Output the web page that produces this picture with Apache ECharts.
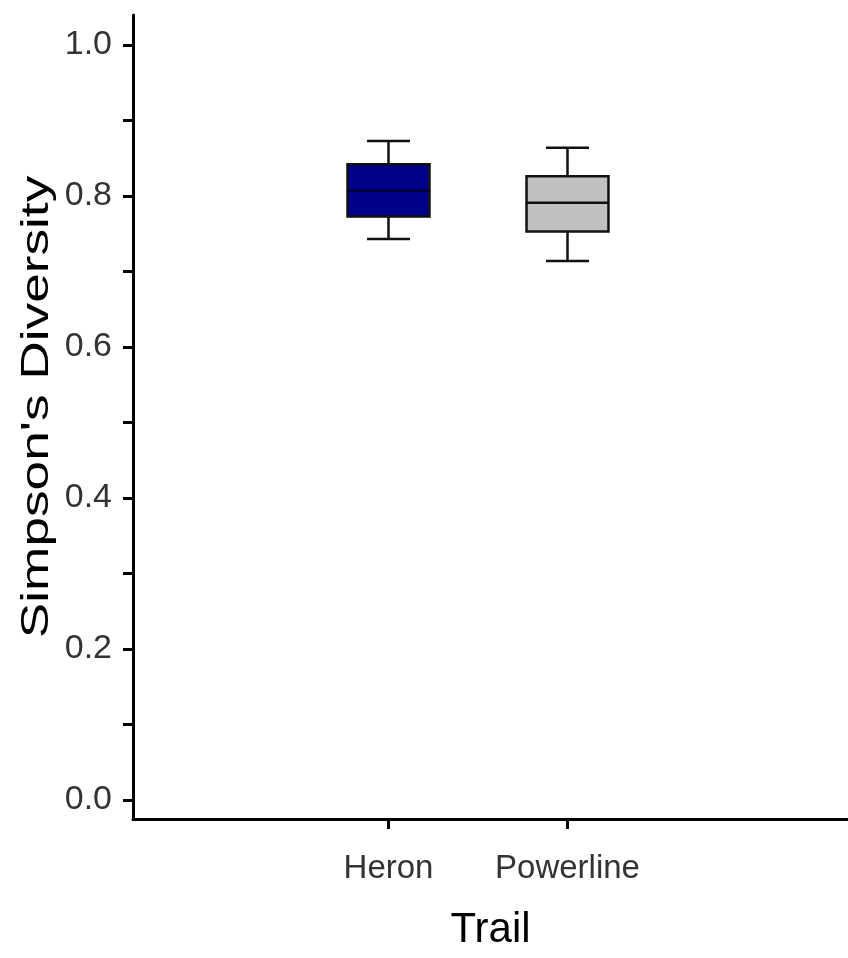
<!DOCTYPE html>
<html>
<head>
<meta charset="utf-8">
<script src="https://cdn.jsdelivr.net/npm/echarts@6/dist/echarts.min.js"></script>
<style>
html,body{margin:0;padding:0;background:#fff;}
#chart{width:848px;height:958px;}
</style>
</head>
<body>
<div id="chart"></div>
<script>
// ---- data ----
const categories = ['Heron', 'Powerline'];
const whiskerLow = [0.743, 0.714];
const q1 = [0.773, 0.753];
const median = [0.807, 0.791];
const q3 = [0.842, 0.826];
const whiskerHigh = [0.873, 0.864];
const yMin = 0, yMax = 1, yStep = 0.2;
const yTitle = "Simpson's Diversity";
const xTitle = 'Trail';

// ---- styles / layout ----
const boxFills = ['#00008B', '#C0C0C0'];
const labelFont = '"Liberation Sans", Arial, sans-serif';
// the frame extends slightly beyond the 0..1 tick range (19px below, 30px above, 755px per unit)
const frameMin = yMin - 19 / 755;
const frameMax = yMax + 30 / 755;

const boxData = categories.map((c, i) => [i, whiskerLow[i], q1[i], median[i], q3[i], whiskerHigh[i]]);

const chart = echarts.init(document.getElementById('chart'), null, {renderer: 'canvas'});

const blackLine = {color: '#000', width: 3};

chart.setOption({
  animation: false,
  backgroundColor: '#fff',
  grid: [
    {left: 133, right: 0, top: 15, bottom: 139},   // frame (axis lines)
    {left: 133, right: 0, top: 45, bottom: 158},   // y ticks & labels
    {left: 299, right: 191, top: 15, bottom: 139}  // boxes & categories
  ],
  xAxis: [
    {gridIndex: 0, type: 'value', min: 0, max: 1,
     axisLine: {show: true, onZero: false, lineStyle: blackLine},
     axisTick: {show: false}, axisLabel: {show: false}, splitLine: {show: false},
     name: xTitle, nameLocation: 'middle', nameGap: 90,
     nameTextStyle: {fontFamily: '"Liberation Sans", Arial, sans-serif', fontSize: 42, color: '#000'}},
    {gridIndex: 1, type: 'value', min: 0, max: 1, show: false},
    {gridIndex: 2, type: 'category', data: categories,
     axisLine: {show: false, onZero: false},
     axisTick: {show: true, alignWithLabel: true, interval: 0, length: 10, lineStyle: blackLine},
     axisLabel: {show: true, interval: 0, margin: 33, fontFamily: labelFont, fontSize: 33, color: '#333'},
     splitLine: {show: false}}
  ],
  yAxis: [
    {gridIndex: 0, type: 'value', min: 0, max: 1,
     axisLine: {show: true, onZero: false, lineStyle: blackLine},
     axisTick: {show: false}, axisLabel: {show: false}, splitLine: {show: false}},
    {gridIndex: 1, type: 'value', min: yMin, max: yMax, interval: yStep,
     axisLine: {show: false, onZero: false},
     axisTick: {show: true, length: 10, lineStyle: blackLine},
     minorTick: {show: true, splitNumber: 2, length: 10, lineStyle: blackLine},
     axisLabel: {show: true, margin: 21, fontFamily: labelFont, fontSize: 34, color: '#333',
                 formatter: v => v.toFixed(1)},
     splitLine: {show: false}, minorSplitLine: {show: false}},
    {gridIndex: 2, type: 'value', min: frameMin, max: frameMax, show: false}
  ],
  graphic: [{
    type: 'text', x: 38, y: 407, rotation: Math.PI / 2, scaleX: 1.4, scaleY: 1,
    style: {text: yTitle, font: '38px "Liberation Sans", Arial, sans-serif', fill: '#000',
            align: 'center', verticalAlign: 'middle'}
  }],
  series: [{
    type: 'custom',
    xAxisIndex: 2, yAxisIndex: 2,
    data: boxData,
    renderItem: function (params, api) {
      const idx = api.value(0);
      const band = api.size([1, 0])[0];
      const boxW = band * 0.458;
      const capW = band * 0.24;
      const pLow = api.coord([idx, api.value(1)]);
      const pQ1 = api.coord([idx, api.value(2)]);
      const pMed = api.coord([idx, api.value(3)]);
      const pQ3 = api.coord([idx, api.value(4)]);
      const pHigh = api.coord([idx, api.value(5)]);
      const cx = pQ1[0];
      const stroke = {stroke: '#111', lineWidth: 2.5, fill: null};
      return {
        type: 'group',
        children: [
          {type: 'line', shape: {x1: cx, y1: pQ3[1], x2: cx, y2: pHigh[1]}, style: stroke},
          {type: 'line', shape: {x1: cx, y1: pQ1[1], x2: cx, y2: pLow[1]}, style: stroke},
          {type: 'line', shape: {x1: cx - capW / 2, y1: pHigh[1], x2: cx + capW / 2, y2: pHigh[1]}, style: stroke},
          {type: 'line', shape: {x1: cx - capW / 2, y1: pLow[1], x2: cx + capW / 2, y2: pLow[1]}, style: stroke},
          {type: 'rect', shape: {x: cx - boxW / 2, y: pQ3[1], width: boxW, height: pQ1[1] - pQ3[1]},
           style: {fill: boxFills[idx], stroke: '#111', lineWidth: 2.5}},
          {type: 'line', shape: {x1: cx - boxW / 2, y1: pMed[1], x2: cx + boxW / 2, y2: pMed[1]},
           style: {stroke: idx === 0 ? '#000030' : '#111', lineWidth: 2.5}}
        ]
      };
    }
  }]
});
</script>
</body>
</html>
